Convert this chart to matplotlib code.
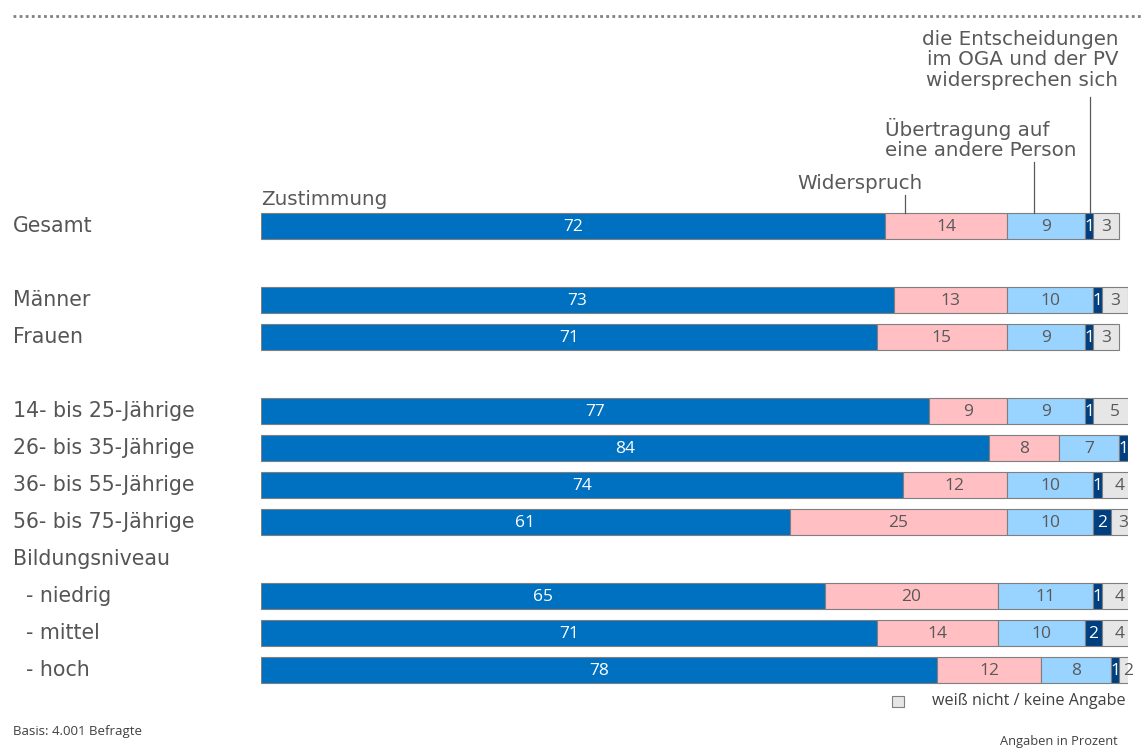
import numpy as np
import matplotlib
matplotlib.use('Agg')
from matplotlib import pyplot as plt
from matplotlib.transforms import blended_transform_factory

# row labels, row positions (blank rows between groups)
labels = ['Gesamt', 'Männer', 'Frauen', '14- bis 25-Jährige', '26- bis 35-Jährige',
          '36- bis 55-Jährige', '56- bis 75-Jährige', '  - niedrig', '  - mittel', '  - hoch']
rows = [0, 2, 3, 5, 6, 7, 8, 10, 11, 12]

zustimmung = [72, 73, 71, 77, 84, 74, 61, 65, 71, 78]
widerspruch = [14, 13, 15, 9, 8, 12, 25, 20, 14, 12]
uebertragung = [9, 10, 9, 9, 7, 10, 10, 11, 10, 8]
widersprechen = [1, 1, 1, 1, 1, 1, 2, 1, 2, 1]
weiss_nicht = [3, 3, 3, 5, 0, 4, 3, 4, 4, 2]

series = [zustimmung, widerspruch, uebertragung, widersprechen, weiss_nicht]
colors = ['#0070C0', '#FFBFC3', '#99D3FF', '#003F7F', '#E6E6E6']
txt_colors = ['white', '#595959', '#595959', 'white', '#595959']

W, H = 1142, 752
fig = plt.figure(figsize=(W / 100, H / 100), dpi=100)

# axes: x 0..100 -> px 261..1128, row 0 at px 226, 37 px per row
top_px, bot_px = 22.5, 744
ax = fig.add_axes([261 / W, 1 - bot_px / H, 867 / W, (bot_px - top_px) / H])
ax.set_xlim(0, 100)
ax.set_ylim((bot_px - 226) / 37, (top_px - 226) / 37)
ax.axis('off')

left = np.zeros(len(rows))
for vals, c, tc in zip(series, colors, txt_colors):
    vals = np.array(vals, dtype=float)
    ax.barh(rows, vals, left=left, height=0.68, color=c, edgecolor='#7f7f7f', linewidth=0.8)
    for r, l, v in zip(rows, left, vals):
        if v > 0:
            ax.text(l + v / 2, r + 0.03, f'{v:.0f}', ha='center', va='center',
                    color=tc, fontsize=12.5, family='Open Sans')
    left += vals

lab = dict(fontsize=14.8, color='#555555', family='DejaVu Sans')
tr = blended_transform_factory(fig.transFigure, ax.transData)
for r, name in zip(rows, labels):
    fig.text(13 / W, r, name, transform=tr, ha='left', va='center', **lab)
fig.text(13 / W, 9, 'Bildungsniveau', transform=tr, ha='left', va='center', **lab)

# series annotations with leader lines
ann = dict(fontsize=14.3, color='#595959', family='DejaVu Sans', linespacing=1.1)
ax.text(0, -0.46, 'Zustimmung', ha='left', va='bottom', **ann)
ax.text(69.1, -0.89, 'Widerspruch', ha='center', va='bottom', **ann)
ax.plot([74.3, 74.3], [-0.34, -0.84], color='#595959', lw=0.9)
ax.text(72.0, -1.78, 'Übertragung auf\neine andere Person', ha='left', va='bottom',
        multialignment='left', **ann)
ax.plot([89.2, 89.2], [-0.34, -1.73], color='#595959', lw=0.9)
ax.text(98.9, -3.68, 'die Entscheidungen\nim OGA und der PV\nwidersprechen sich',
        ha='right', va='bottom', multialignment='right', **ann)
ax.plot([95.6, 95.6], [-0.34, -3.49], color='#595959', lw=0.9)

# legend for the grey segment
fig.patches.append(plt.Rectangle((892 / W, 1 - 707 / H), 12 / W, 11 / H, transform=fig.transFigure,
                                 facecolor='#E6E6E6', edgecolor='#7f7f7f', linewidth=0.8))
fig.text(932 / W, 1 - 701 / H, 'weiß nicht / keine Angabe', ha='left', va='center',
         fontsize=11.6, color='#404040', family='Open Sans')

# top dotted rule and footer
fig.add_artist(plt.Line2D([13 / W, 1], [1 - 16 / H, 1 - 16 / H], transform=fig.transFigure,
                          color='#808080', lw=2, linestyle=(0, (1, 1.2))))
fig.text(13 / W, 1 - 732 / H, 'Basis: 4.001 Befragte', ha='left', va='center',
         fontsize=9.5, color='#404040', family='Open Sans')
fig.text(1118 / W, 1 - 742 / H, 'Angaben in Prozent', ha='right', va='center',
         fontsize=9.3, color='#404040', family='Open Sans')

fig.savefig('out.png', dpi=100, facecolor='white')
